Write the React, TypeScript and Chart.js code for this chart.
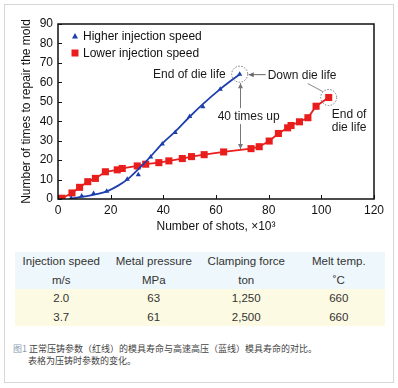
import React, { useEffect, useRef } from "react";
import { Chart, registerables } from "chart.js";

Chart.register(...registerables);

// ---- data ----
// measured markers, higher injection speed
const higherX = [5, 9, 13.5, 18.5, 26.3, 30.5, 35.2, 39.6, 44.5, 50, 55, 61.6, 69];
const higherY = [0.4, 1.5, 2.8, 4, 10.2, 12.5, 21.6, 28.3, 34.2, 42.4, 47.4, 56.5, 64.2];
// the smooth fitted curve drawn through them
const higherCurveX = [5, 10, 15, 19, 23, 26.5, 31, 35, 39.5, 44.5, 50, 55, 61.6, 69];
const higherCurveY = [0.2, 1.3, 2.6, 4.2, 7, 10.2, 16, 21.6, 28.4, 34.6, 42.3, 48.8, 56.5, 64.2];
const lowerX = [1.5, 5.3, 8.2, 11.3, 14.2, 18, 22.5, 24.4, 30.1, 33.3, 38.3, 42.1, 47.2, 50.7, 55.5, 62.9, 73.3, 76.4, 80.2, 83.7, 87.2, 88.5, 91.7, 94.9, 98, 102.8];
const lowerY = [0.4, 3.1, 6, 8.9, 10.6, 14, 15, 15.7, 17, 17.9, 18.7, 19.6, 20.8, 21.8, 22.8, 24.2, 25.9, 26.9, 29.8, 33.7, 36.6, 37.8, 39.7, 41.8, 47.7, 52.2];
const xTicks = [0, 20, 40, 60, 80, 100, 120];
const yTicks = [0, 10, 20, 30, 40, 50, 60, 70, 80, 90];
const seriesNames = ["Higher injection speed", "Lower injection speed"];
const xTitle = "Number of shots, \u00d710\u00b3";
const yTitle = "Number of times to repair the mold";
const tableHeader = ["Injection speed", "Metal pressure", "Clamping force", "Melt temp."];
const tableUnits = ["m/s", "MPa", "ton", "\u02daC"];
const tableRows = [
  ["2.0", "63", "1,250", "660"],
  ["3.7", "61", "2,500", "660"],
];
const captionLabel = "\u56fe1";
const captionLine1 = "正常压铸参数（红线）的模具寿命与高速高压（蓝线）模具寿命的对比。";
const captionLine2 = "表格为压铸时参数的变化。";

const BLUE = "#1d3fae";
const RED = "#ea1d1d";
const FONT = "'Liberation Sans', Arial, sans-serif";

function redAt(xv: number): number {
  for (let i = 0; i < lowerX.length - 1; i++) {
    if (xv >= lowerX[i] && xv <= lowerX[i + 1]) {
      const t = (xv - lowerX[i]) / (lowerX[i + 1] - lowerX[i]);
      return lowerY[i] + t * (lowerY[i + 1] - lowerY[i]);
    }
  }
  return lowerY[lowerY.length - 1];
}

const decor = {
  id: "decor",
  afterDatasetsDraw(chart: any) {
    const { ctx, chartArea: a, scales } = chart;
    const x = scales.x;
    const y = scales.y;
    ctx.save();
    // frame box
    ctx.strokeStyle = "#111";
    ctx.lineWidth = 1.5;
    ctx.strokeRect(a.left, a.top, a.right - a.left, a.bottom - a.top);
    // inward ticks
    ctx.lineWidth = 1;
    ctx.beginPath();
    xTicks.forEach((v) => {
      const px = Math.round(x.getPixelForValue(v)) + 0.5;
      ctx.moveTo(px, a.bottom);
      ctx.lineTo(px, a.bottom - 4);
    });
    yTicks.forEach((v) => {
      const py = Math.round(y.getPixelForValue(v)) + 0.5;
      ctx.moveTo(a.left, py);
      ctx.lineTo(a.left + 4, py);
    });
    ctx.stroke();

    // legend
    ctx.font = `12px ${FONT}`;
    ctx.textBaseline = "middle";
    ctx.textAlign = "left";
    const lx = a.left + 17;
    const ly1 = a.top + 12;
    const ly2 = a.top + 29;
    ctx.fillStyle = BLUE;
    ctx.beginPath();
    ctx.moveTo(lx, ly1 - 3);
    ctx.lineTo(lx + 3, ly1 + 2.5);
    ctx.lineTo(lx - 3, ly1 + 2.5);
    ctx.closePath();
    ctx.fill();
    ctx.fillStyle = RED;
    ctx.fillRect(lx - 3.5, ly2 - 3.5, 7, 7);
    ctx.fillStyle = "#111";
    ctx.fillText(seriesNames[0], lx + 8, ly1 + 1);
    ctx.fillText(seriesNames[1], lx + 8, ly2 + 1);

    // annotations
    const bx = x.getPixelForValue(higherX[higherX.length - 1]);
    const by = y.getPixelForValue(higherY[higherY.length - 1]);
    const rx = x.getPixelForValue(lowerX[lowerX.length - 1]);
    const ry = y.getPixelForValue(lowerY[lowerY.length - 1]);

    ctx.strokeStyle = "#777";
    ctx.lineWidth = 1;
    ctx.setLineDash([1.5, 1.5]);
    ctx.beginPath();
    ctx.arc(bx, by, 8, 0, Math.PI * 2);
    ctx.stroke();
    ctx.beginPath();
    ctx.arc(rx, ry, 8, 0, Math.PI * 2);
    ctx.stroke();
    ctx.setLineDash([]);

    ctx.fillStyle = "#1a1a1a";
    ctx.textAlign = "right";
    ctx.fillText("End of die life", bx - 14, by + 1);

    // arrow to blue circle
    ctx.strokeStyle = "#666";
    ctx.beginPath();
    ctx.moveTo(bx + 9, by + 0.5);
    ctx.lineTo(bx + 26, by + 0.5);
    ctx.stroke();
    ctx.fillStyle = "#666";
    ctx.beginPath();
    ctx.moveTo(bx + 9, by + 0.5);
    ctx.lineTo(bx + 14, by - 2);
    ctx.lineTo(bx + 14, by + 3);
    ctx.closePath();
    ctx.fill();
    ctx.fillStyle = "#1a1a1a";
    ctx.textAlign = "left";
    ctx.fillText("Down die life", bx + 28, by + 2);

    // line to red circle
    ctx.strokeStyle = "#888";
    ctx.beginPath();
    ctx.moveTo(rx - 21, ry - 14);
    ctx.lineTo(rx - 6, ry - 6);
    ctx.stroke();

    ctx.fillStyle = "#1a1a1a";
    ctx.fillText("End of", rx + 3, ry + 17);
    ctx.fillText("die life", rx + 3, ry + 30);

    // vertical double arrow
    const ax = Math.round(bx) + 0.5;
    const top = by + 9;
    const bot = y.getPixelForValue(redAt(higherX[higherX.length - 1])) - 1;
    ctx.strokeStyle = "#777";
    ctx.beginPath();
    ctx.moveTo(ax, top);
    ctx.lineTo(ax, bot);
    ctx.stroke();
    ctx.fillStyle = "#777";
    ctx.beginPath();
    ctx.moveTo(ax, top);
    ctx.lineTo(ax - 2.5, top + 5);
    ctx.lineTo(ax + 2.5, top + 5);
    ctx.closePath();
    ctx.fill();
    ctx.beginPath();
    ctx.moveTo(ax, bot);
    ctx.lineTo(ax - 2.5, bot - 5);
    ctx.lineTo(ax + 2.5, bot - 5);
    ctx.closePath();
    ctx.fill();
    const mid = (top + bot) / 2;
    const label = "40 times up";
    const w = ctx.measureText(label).width;
    const cx = bx + 9;
    ctx.fillStyle = "#fff";
    ctx.fillRect(cx - w / 2 - 2, mid - 8, w + 4, 16);
    ctx.fillStyle = "#1a1a1a";
    ctx.textAlign = "center";
    ctx.fillText(label, cx, mid + 1);

    ctx.restore();
  },
};

function ChartCanvas() {
  const ref = useRef<HTMLCanvasElement | null>(null);
  useEffect(() => {
    if (!ref.current) return;
    const tickFont = { family: FONT, size: 12 };
    const chart = new Chart(ref.current, {
      type: "scatter",
      data: {
        datasets: [
          {
            label: seriesNames[0] + " curve",
            data: higherCurveX.map((v, i) => ({ x: v, y: higherCurveY[i] })),
            showLine: true,
            borderColor: BLUE,
            backgroundColor: BLUE,
            pointRadius: 0,
            borderWidth: 1.8,
            cubicInterpolationMode: "monotone",
          } as any,
          {
            label: seriesNames[0],
            data: higherX.map((v, i) => ({ x: v, y: higherY[i] })),
            showLine: false,
            borderColor: BLUE,
            backgroundColor: BLUE,
            pointStyle: "triangle",
            pointRadius: 3,
            pointBorderWidth: 0,
          } as any,
          {
            label: seriesNames[1],
            data: lowerX.map((v, i) => ({ x: v, y: lowerY[i] })),
            showLine: true,
            borderColor: RED,
            backgroundColor: RED,
            pointStyle: "rect",
            pointRadius: 5,
            pointBorderWidth: 0,
            borderWidth: 1.8,
            tension: 0,
          } as any,
        ],
      },
      options: {
        responsive: false,
        animation: false,
        devicePixelRatio: 1,
        layout: { padding: { top: 24, right: 24, left: 0, bottom: 0 } },
        plugins: { legend: { display: false }, tooltip: { enabled: false } },
        scales: {
          x: {
            type: "linear",
            min: 0,
            max: 120,
            afterBuildTicks: (s: any) => {
              s.ticks = xTicks.map((v) => ({ value: v }));
            },
            grid: { display: false, drawTicks: false },
            border: { display: false },
            ticks: { padding: 4, font: tickFont, color: "#111", maxRotation: 0, autoSkip: false },
            title: { display: true, text: xTitle, font: tickFont, color: "#111", padding: { top: 0, bottom: 6 } },
            afterFit: (s: any) => {
              s.height = 41;
            },
          },
          y: {
            type: "linear",
            min: 0,
            max: 90,
            afterBuildTicks: (s: any) => {
              s.ticks = yTicks.map((v) => ({ value: v }));
            },
            grid: { display: false, drawTicks: false },
            border: { display: false },
            ticks: { padding: 5, font: tickFont, color: "#111", autoSkip: false },
            title: { display: true, text: yTitle, font: tickFont, color: "#111", padding: { top: 19, bottom: 0 } },
            afterFit: (s: any) => {
              s.width = 58;
            },
          },
        },
      } as any,
      plugins: [decor],
    });
    return () => chart.destroy();
  }, []);
  return <canvas ref={ref} width={398} height={240} style={{ position: "absolute", left: 0, top: 0 }} />;
}

export default function App() {
  const cell: React.CSSProperties = {
    flex: 1,
    textAlign: "center",
    lineHeight: "18.5px",
    height: 18.5,
  };
  const rowStyle: React.CSSProperties = { display: "flex", width: "100%" };
  return (
    <div
      style={{
        position: "fixed",
        left: 0,
        top: 0,
        width: 398,
        height: 388,
        background: "#fff",
        overflow: "hidden",
        fontFamily: FONT,
      }}
    >
      <div
        style={{
          position: "absolute",
          left: 4,
          top: 4,
          width: 390,
          height: 379,
          border: "1px solid #d6d6d6",
          boxSizing: "border-box",
        }}
      />
      <ChartCanvas />
      <div
        style={{
          position: "absolute",
          left: 15,
          top: 252,
          width: 370,
          fontSize: 11.5,
          color: "#333",
        }}
      >
        <div style={{ background: "#eef7fb" }}>
          <div style={rowStyle}>
            {tableHeader.map((h) => (
              <div key={h} style={cell}>{h}</div>
            ))}
          </div>
          <div style={rowStyle}>
            {tableUnits.map((h) => (
              <div key={h} style={cell}>{h}</div>
            ))}
          </div>
        </div>
        <div style={{ background: "#fcfae2" }}>
          {tableRows.map((r, i) => (
            <div key={i} style={rowStyle}>
              {r.map((c, j) => (
                <div key={j} style={cell}>{c}</div>
              ))}
            </div>
          ))}
        </div>
      </div>
      <div
        style={{
          position: "absolute",
          left: 13,
          top: 343,
          fontFamily: "'Noto Sans CJK SC', sans-serif",
          fontSize: 9,
          lineHeight: "12px",
          color: "#444",
          whiteSpace: "nowrap",
        }}
      >
        <div>
          <span style={{ color: "#8a9bb0" }}>{captionLabel} </span>
          {captionLine1}
        </div>
        <div style={{ paddingLeft: 15 }}>{captionLine2}</div>
      </div>
    </div>
  );
}
